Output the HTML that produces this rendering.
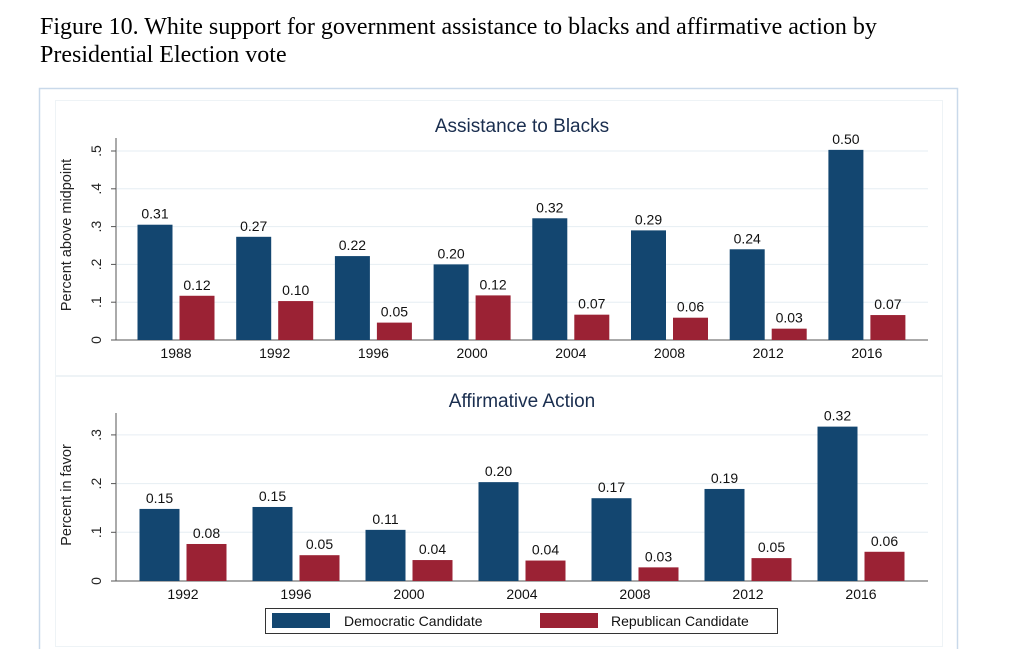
<!DOCTYPE html>
<html><head><meta charset="utf-8"><style>
body{margin:0;background:#fff;}
svg{display:block;font-family:"Liberation Sans",sans-serif;}
</style></head><body>
<svg id="c" width="1019" height="649" viewBox="0 0 1019 649" xmlns="http://www.w3.org/2000/svg">
<text x="40" y="34" font-family="Liberation Serif,serif" font-size="24" fill="#000">Figure 10. White support for government assistance to blacks and affirmative action by</text>
<text x="40" y="62" font-family="Liberation Serif,serif" font-size="24" fill="#000">Presidential Election vote</text>
<rect x="39.5" y="88.5" width="918" height="570" fill="none" stroke="#c9d9ea" stroke-width="1.5"/>
<rect x="55.5" y="100.5" width="887" height="275" fill="#fff" stroke="#eef3f6"/>
<rect x="55.5" y="376.5" width="887" height="270" fill="#fff" stroke="#eef3f6"/>
<g id="g1"></g><g id="g2"></g>
<g>
<rect x="265.5" y="608.5" width="512" height="25" fill="#fff" stroke="#333"/>
<rect x="272" y="613" width="58" height="15" fill="#134670"/>
<text x="344" y="626" font-size="14" fill="#111">Democratic Candidate</text>
<rect x="540" y="613" width="58" height="15" fill="#9b2234"/>
<text x="611" y="626" font-size="14" fill="#111">Republican Candidate</text>
</g>
</svg>
<script>
const years1=["1988","1992","1996","2000","2004","2008","2012","2016"];
const dem1=[0.305,0.273,0.222,0.200,0.322,0.290,0.240,0.503];
const rep1=[0.117,0.103,0.046,0.118,0.067,0.059,0.030,0.066];
const demLabels1=["0.31","0.27","0.22","0.20","0.32","0.29","0.24","0.50"];
const repLabels1=["0.12","0.10","0.05","0.12","0.07","0.06","0.03","0.07"];
const ticks1=[0,0.1,0.2,0.3,0.4,0.5];
const tickLabels1=["0",".1",".2",".3",".4",".5"];
const years2=["1992","1996","2000","2004","2008","2012","2016"];
const dem2=[0.148,0.152,0.105,0.203,0.170,0.189,0.317];
const rep2=[0.076,0.053,0.043,0.042,0.028,0.047,0.060];
const demLabels2=["0.15","0.15","0.11","0.20","0.17","0.19","0.32"];
const repLabels2=["0.08","0.05","0.04","0.04","0.03","0.05","0.06"];
const ticks2=[0,0.1,0.2,0.3];
const tickLabels2=["0",".1",".2",".3"];
const NS="http://www.w3.org/2000/svg";
function mk(p,t,a,txt){const e=document.createElementNS(NS,t);for(const k in a)e.setAttribute(k,a[k]);if(txt!=null)e.textContent=txt;p.appendChild(e);return e;}
function chart(g,o){
  const y=v=>o.y0-v*o.scale;
  const x=i=>o.x0+i*o.step;
  mk(g,'text',{x:o.titleX,y:o.titleY,'font-size':19,fill:'#1a2e4f','text-anchor':'middle'},o.title);
  o.ticks.forEach((t,i)=>{
    if(t>0){const l=mk(g,'line',{x1:117,x2:928,y1:y(t),y2:y(t),stroke:'#e6eef3'});}
    mk(g,'line',{x1:111,x2:116,y1:y(t),y2:y(t),stroke:'#555'});
    const tx=mk(g,'text',{x:0,y:0,'font-size':14,fill:'#222','text-anchor':'middle',transform:`translate(${101},${y(t)}) rotate(-90)`},o.labels[i]);
    
    
  });
  const yt=mk(g,'text',{x:0,y:0,'font-size':14.5,fill:'#222','text-anchor':'middle',transform:`translate(71,${o.yTitleY}) rotate(-90)`},o.yTitle);
  
  
  mk(g,'line',{x1:116,x2:116,y1:o.axisTop,y2:o.y0,stroke:'#555'});
  mk(g,'line',{x1:116,x2:928,y1:o.y0,y2:o.y0,stroke:'#555'});
  o.cats.forEach((c,i)=>{
    const cx=x(i);
    const d=mk(g,'rect',{x:cx-o.gap-o.w,y:y(o.dem[i]),width:o.w,height:o.dem[i]*o.scale,fill:'#134670'});
    
    
    const r=mk(g,'rect',{x:cx+o.gap,y:y(o.rep[i]),width:o.w,height:o.rep[i]*o.scale,fill:'#9b2234'});
    
    
    const l1=mk(g,'text',{x:cx-o.gap-o.w/2,y:y(o.dem[i])-6,'font-size':14,fill:'#111','text-anchor':'middle'},o.demL[i]);
    
    
    const l2=mk(g,'text',{x:cx+o.gap+o.w/2,y:y(o.rep[i])-6,'font-size':14,fill:'#111','text-anchor':'middle'},o.repL[i]);
    
    
    const xl=mk(g,'text',{x:cx,y:o.y0+18,'font-size':14,fill:'#111','text-anchor':'middle'},c);
    
    
  });
}
chart(document.getElementById('g1'),{cats:years1,dem:dem1,rep:rep1,demL:demLabels1,repL:repLabels1,ticks:ticks1,labels:tickLabels1,y0:340,scale:378,x0:176,step:98.7,w:35,gap:3.5,title:'Assistance to Blacks',titleX:522,titleY:132,yTitle:'Percent above midpoint',yTitleY:235,axisTop:138});
chart(document.getElementById('g2'),{cats:years2,dem:dem2,rep:rep2,demL:demLabels2,repL:repLabels2,ticks:ticks2,labels:tickLabels2,y0:581,scale:487,x0:183,step:113,w:40,gap:3.5,title:'Affirmative Action',titleX:522,titleY:407,yTitle:'Percent in favor',yTitleY:495,axisTop:413});
</script>
</body></html>
